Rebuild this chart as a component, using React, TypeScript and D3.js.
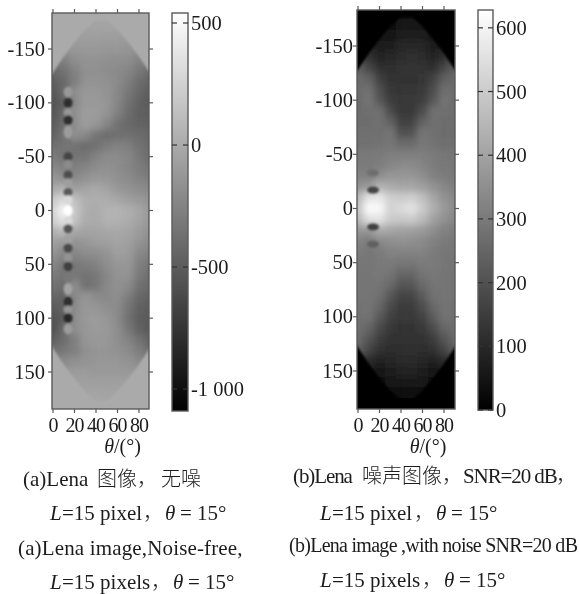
import React from "react";
import * as d3 from "d3";

const thetas = [0, 10, 20, 30, 40, 50, 60, 70, 80, 90];
const rhos = d3.range(-180, 181, 10);

// values, one row per rho, one column per theta
const lenaClean = [
  [-30, -40, -50, -40, -40, -40, -40, -50, -40, -30],
  [-70, -60, -60, -50, -50, -50, -50, -60, -60, -70],
  [-150, -110, -90, -80, -80, -90, -90, -100, -120, -150],
  [-230, -170, -120, -120, -120, -130, -130, -140, -180, -230],
  [-340, -270, -180, -150, -150, -170, -180, -190, -250, -320],
  [-420, -360, -260, -170, -170, -190, -210, -240, -320, -400],
  [-480, -430, -280, -150, -150, -170, -210, -280, -390, -450],
  [-540, -420, -170, -120, -120, -150, -220, -330, -430, -500],
  [-560, -480, -220, -110, -110, -140, -240, -370, -470, -520],
  [-540, -430, -170, -90, -100, -150, -280, -400, -470, -500],
  [-500, -400, -190, -80, -130, -240, -370, -420, -450, -470],
  [-450, -360, -170, -220, -340, -400, -380, -370, -400, -440],
  [-380, -360, -360, -400, -370, -300, -260, -280, -360, -420],
  [-300, -360, -340, -340, -260, -210, -210, -240, -330, -400],
  [-220, -270, -280, -240, -190, -170, -190, -230, -300, -350],
  [-130, -180, -210, -150, -120, -130, -170, -200, -250, -300],
  [-20, 60, -70, -40, -10, -50, -120, -150, -190, -230],
  [180, 300, 130, 20, 20, 10, -30, -70, -110, -160],
  [280, 480, 190, 20, 0, 50, 60, 20, -30, -120],
  [220, 350, 150, 10, 0, 40, 40, 10, -50, -130],
  [40, 80, -30, -50, -40, -30, -20, -40, -100, -170],
  [-70, -130, -160, -130, -100, -80, -50, -70, -150, -220],
  [-150, -230, -230, -200, -180, -150, -70, -100, -220, -280],
  [-240, -320, -320, -290, -260, -190, -130, -130, -280, -340],
  [-300, -360, -320, -360, -320, -230, -150, -150, -310, -390],
  [-360, -400, -180, -380, -330, -220, -170, -210, -370, -430],
  [-440, -460, -220, -130, -200, -220, -180, -290, -430, -470],
  [-510, -470, -200, -120, -130, -180, -210, -340, -470, -500],
  [-560, -500, -190, -110, -100, -130, -210, -370, -490, -530],
  [-570, -420, -180, -130, -100, -120, -190, -330, -460, -540],
  [-480, -400, -280, -140, -120, -130, -180, -260, -370, -460],
  [-380, -330, -280, -170, -140, -140, -160, -200, -290, -380],
  [-260, -210, -170, -150, -130, -130, -130, -150, -210, -260],
  [-180, -130, -100, -100, -110, -110, -110, -110, -140, -180],
  [-100, -80, -70, -70, -70, -80, -70, -70, -90, -100],
  [-50, -40, -40, -40, -40, -50, -40, -40, -40, -50],
  [-20, -20, -20, -20, -20, -20, -20, -20, -20, -20],
];

// beads along theta = 14 in the left map
const cleanRidgeRho = [-110, -100, -91, -84, -73, -60, -50, -43, -33, -26, -17, -10, 0, 10, 17, 27, 35, 44, 52, 62, 73, 85, 92, 100, 110];
const cleanRidgeVal = [-110, -800, -130, -800, -90, -350, -650, -200, -600, -80, -520, 300, 541, 300, -550, -60, -620, -150, -680, -320, -50, -800, -130, -850, -90];

const lenaNoisy = [
  [25, 25, 25, 25, 30, 30, 25, 25, 25, 25],
  [40, 40, 40, 40, 50, 50, 45, 40, 40, 40],
  [70, 60, 55, 55, 70, 75, 70, 55, 60, 70],
  [120, 85, 70, 70, 90, 95, 90, 70, 85, 120],
  [170, 110, 85, 90, 105, 110, 105, 85, 110, 170],
  [230, 170, 115, 115, 120, 125, 120, 115, 170, 230],
  [260, 240, 160, 125, 125, 125, 130, 165, 235, 255],
  [265, 275, 190, 140, 130, 130, 140, 190, 270, 265],
  [260, 285, 215, 150, 135, 135, 150, 215, 285, 260],
  [265, 270, 275, 185, 140, 140, 185, 275, 275, 265],
  [265, 265, 275, 240, 155, 155, 240, 275, 265, 265],
  [270, 270, 270, 285, 195, 200, 285, 275, 265, 265],
  [275, 275, 280, 290, 260, 260, 295, 280, 270, 270],
  [295, 295, 300, 310, 310, 310, 310, 300, 290, 285],
  [300, 300, 310, 330, 340, 340, 325, 305, 295, 290],
  [320, 310, 350, 370, 370, 370, 350, 320, 305, 295],
  [360, 380, 440, 420, 410, 410, 390, 360, 330, 310],
  [450, 560, 570, 510, 500, 510, 470, 410, 360, 330],
  [480, 620, 610, 520, 540, 560, 500, 430, 380, 340],
  [450, 550, 560, 500, 490, 500, 460, 400, 355, 325],
  [370, 370, 420, 410, 400, 395, 380, 350, 320, 305],
  [320, 300, 340, 350, 360, 350, 340, 320, 300, 290],
  [300, 290, 300, 320, 320, 320, 320, 300, 290, 285],
  [290, 290, 295, 300, 290, 290, 300, 300, 290, 280],
  [285, 285, 295, 285, 250, 250, 285, 295, 285, 280],
  [285, 285, 285, 260, 210, 215, 260, 285, 285, 280],
  [285, 285, 275, 220, 170, 170, 225, 280, 285, 280],
  [280, 285, 250, 185, 145, 145, 190, 255, 285, 275],
  [275, 280, 220, 160, 135, 135, 160, 225, 280, 270],
  [270, 245, 180, 140, 125, 125, 140, 185, 250, 265],
  [260, 210, 150, 125, 120, 120, 125, 150, 210, 255],
  [240, 170, 125, 115, 115, 115, 115, 125, 170, 235],
  [160, 105, 85, 90, 100, 100, 95, 85, 105, 160],
  [95, 70, 60, 70, 80, 85, 75, 60, 70, 95],
  [55, 45, 40, 45, 60, 60, 50, 40, 45, 55],
  [30, 30, 30, 30, 35, 35, 30, 30, 30, 30],
  [15, 15, 15, 15, 15, 15, 15, 15, 15, 15],
];

const noisyRidgeRho = [-33, -17, 17, 33];
const noisyRidgeVal = [270, 170, 160, 240];

// where the flat outer area starts, as |rho| per theta
const edgeTheta = [-5, 0, 10, 20, 30, 40, 50, 60, 70, 80, 90, 95];
const edgeRho = [120, 128, 143, 156, 168, 177, 177, 168, 156, 143, 128, 120];

const thetaTicks = [0, 20, 40, 60, 80];
const rhoTicks = [-150, -100, -50, 0, 50, 100, 150];
const cleanBarTicks = [500, 0, -500, -1000];
const noisyBarTicks = [600, 500, 400, 300, 200, 100, 0];

const frameColor = "#5a5a5a";
const ink = "#1c1c1c";
const serif = "'Liberation Serif', serif";
const cjk = "'Noto Sans CJK SC', sans-serif";

function HeatPanel({ id, grid, ridgeRho, ridgeVal, beadRx, beadRy, outside, barTicks, barFormat, box, bar, thetaX, rhoY, barY, labelEnd }: any) {
  const x = d3.scaleLinear().domain(thetaX.domain).range(thetaX.range);
  const y = d3.scaleLinear().domain(rhoY.domain).range(rhoY.range);
  const barScale = d3.scaleLinear().domain(barY.domain).range(barY.range);
  const color = d3
    .scaleLinear<string>()
    .domain([barY.domain[0], barY.top])
    .range(["#000000", "#ffffff"])
    .clamp(true);

  const topArea = d3
    .area<number>()
    .x((_, i) => x(edgeTheta[i]))
    .y0(y(-200))
    .y1((d) => y(-d));
  const bottomArea = d3
    .area<number>()
    .x((_, i) => x(edgeTheta[i]))
    .y0(y(200))
    .y1((d) => y(d));

  const cellEdge = 16;
  const region = { filterUnits: "userSpaceOnUse", x: box.x0 - 30, y: box.y0 - 30, width: box.x1 - box.x0 + 60, height: box.y1 - box.y0 + 60 };
  return (
    <g>
      <defs>
        <clipPath id={`clip-${id}`}>
          <rect x={box.x0} y={box.y0} width={box.x1 - box.x0} height={box.y1 - box.y0} />
        </clipPath>
        <filter id={`soft-${id}`} {...region}>
          <feGaussianBlur stdDeviation="3.6" />
        </filter>
        <filter id={`bead-${id}`} {...region}>
          <feGaussianBlur stdDeviation="1.2" />
        </filter>
        <linearGradient id={`ramp-${id}`} x1="0" y1="1" x2="0" y2="0">
          <stop offset="0" stopColor={color(barY.domain[0])} />
          <stop offset="1" stopColor={color(barY.top)} />
        </linearGradient>
      </defs>

      <g clipPath={`url(#clip-${id})`}>
        <g filter={`url(#soft-${id})`}>
          {grid.map((row: number[], i: number) =>
            row.map((v, j) => {
              const left = x(thetas[j] - 5) - (j === 0 ? cellEdge : 0);
              const right = x(thetas[j] + 5) + (j === row.length - 1 ? cellEdge : 0);
              const top = y(rhos[i] - 5) - (i === 0 ? cellEdge : 0);
              const bottom = y(rhos[i] + 5) + (i === grid.length - 1 ? cellEdge : 0);
              return <rect key={`${i}-${j}`} x={left} y={top} width={right - left + 0.5} height={bottom - top + 0.5} fill={color(v)} />;
            })
          )}
        </g>
        <g filter={`url(#bead-${id})`}>
          {ridgeRho.map((r: number, i: number) => {
            const prev = i === 0 ? r - 5 : (ridgeRho[i - 1] + r) / 2;
            const next = i === ridgeRho.length - 1 ? r + 5 : (r + ridgeRho[i + 1]) / 2;
            const ry = Math.min((y(next) - y(prev)) / 2, beadRy);
            return <ellipse key={r} cx={x(14)} cy={y(r)} rx={beadRx} ry={ry} fill={color(ridgeVal[i])} />;
          })}
          <path d={topArea(edgeRho) ?? ""} fill={color(outside)} />
          <path d={bottomArea(edgeRho) ?? ""} fill={color(outside)} />
        </g>
      </g>

      <rect x={box.x0} y={box.y0} width={box.x1 - box.x0} height={box.y1 - box.y0} fill="none" stroke={frameColor} strokeWidth={1.4} />

      {thetaTicks.map((t) => (
        <g key={t}>
          <line x1={x(t)} x2={x(t)} y1={box.y0} y2={box.y0 - 4} stroke={frameColor} strokeWidth={1.2} />
          <line x1={x(t)} x2={x(t)} y1={box.y1} y2={box.y1 + 4} stroke={frameColor} strokeWidth={1.2} />
          <text x={x(t)} y={432} textAnchor="middle" fontFamily={serif} fontSize={20} letterSpacing={-0.9} fill={ink}>{t}</text>
        </g>
      ))}
      {rhoTicks.map((r) => (
        <g key={r}>
          <line x1={box.x0} x2={box.x0 - 4} y1={y(r)} y2={y(r)} stroke={frameColor} strokeWidth={1.2} />
          <line x1={box.x1} x2={box.x1 + 4} y1={y(r)} y2={y(r)} stroke={frameColor} strokeWidth={1.2} />
          <text x={labelEnd} y={y(r) + 6.5} textAnchor="end" fontFamily={serif} fontSize={20.5} fill={ink}>{r}</text>
        </g>
      ))}
      <text x={(box.x0 + box.x1) / 2 + 22} y={453} textAnchor="middle" fontFamily={serif} fontSize={20} fill={ink}>
        <tspan fontStyle="italic">θ</tspan>/(°)
      </text>

      <rect x={bar.x0} y={barY.range[1]} width={bar.x1 - bar.x0} height={barY.range[0] - barY.range[1]} fill={`url(#ramp-${id})`} stroke={frameColor} strokeWidth={1.4} />
      {barTicks.map((t: number) => (
        <g key={t}>
          <line x1={bar.x0} x2={bar.x0 + 5} y1={barScale(t)} y2={barScale(t)} stroke="#333" strokeWidth={1.2} />
          <line x1={bar.x1} x2={bar.x1 - 5} y1={barScale(t)} y2={barScale(t)} stroke="#333" strokeWidth={1.2} />
          <text x={bar.x1 + 3} y={barScale(t) + 7} fontFamily={serif} fontSize={20.5} fill={ink}>{barFormat(t)}</text>
        </g>
      ))}
    </g>
  );
}

// one caption line: each part is [text, x, kind]
function Caption({ y, parts, spacing, size }: { y: number; parts: [string, number, string?][]; spacing?: number; size?: number }) {
  return (
    <g>
      {parts.map(([s, x, kind], i) => (
        <text
          key={i}
          x={x}
          y={y}
          fontFamily={kind === "cjk" ? cjk : serif}
          fontStyle={kind === "i" ? "italic" : "normal"}
          fontWeight={kind === "cjk" ? 300 : 400}
          fontSize={kind === "cjk" ? 20 : size ?? 21}
          letterSpacing={kind === "cjk" ? 0 : spacing ?? 0}
          fill={ink}
        >
          {s}
        </text>
      ))}
    </g>
  );
}

function paramLine(y: number, left: number, word: string, comma: number, theta: number) {
  return (
    <Caption
      y={y}
      parts={[
        ["L", left, "i"],
        [word, left + 12],
        ["，", comma, "cjk"],
        ["θ", theta, "i"],
        ["=", theta + 15],
        ["15°", theta + 32],
      ]}
    />
  );
}

export default function App() {
  return (
    <svg width={579} height={594} style={{ position: "absolute", left: 0, top: 0, background: "#fff", filter: "blur(0.35px)" }}>
      <HeatPanel
        id="clean"
        grid={lenaClean}
        ridgeRho={cleanRidgeRho}
        ridgeVal={cleanRidgeVal}
        beadRx={4.5}
        beadRy={9}
        outside={0}
        barTicks={cleanBarTicks}
        barFormat={(t: number) => (t === -1000 ? "-1 000" : String(t))}
        box={{ x0: 52, x1: 149, y0: 13, y1: 409 }}
        bar={{ x0: 172, x1: 188 }}
        thetaX={{ domain: [0, 80], range: [53, 139] }}
        rhoY={{ domain: [-150, 150], range: [49, 372] }}
        barY={{ domain: [-1090, 541], range: [411, 13], top: 541 }}
        labelEnd={45}
      />
      <HeatPanel
        id="noisy"
        grid={lenaNoisy}
        ridgeRho={noisyRidgeRho}
        ridgeVal={noisyRidgeVal}
        beadRx={6}
        beadRy={3.5}
        outside={5}
        barTicks={noisyBarTicks}
        barFormat={(t: number) => String(t)}
        box={{ x0: 357, x1: 455, y0: 10, y1: 409 }}
        bar={{ x0: 478, x1: 493 }}
        thetaX={{ domain: [0, 80], range: [358, 444] }}
        rhoY={{ domain: [-150, 150], range: [46, 371] }}
        barY={{ domain: [0, 628], range: [410, 10], top: 628 }}
        labelEnd={353}
      />

      <Caption y={486} parts={[["(a)Lena", 23], ["图像，", 97, "cjk"], ["无噪", 161, "cjk"]]} />
      {paramLine(520, 50, "=15 pixel", 143, 165)}
      <Caption y={555} parts={[["(a)Lena image,Noise-free,", 18]]} spacing={0.15} />
      {paramLine(589, 50, "=15 pixels", 151, 173)}
      <Caption y={483} parts={[["(b)Lena", 293], ["噪声图像，", 362, "cjk"], ["SNR=20 dB", 463]]} spacing={-1.1} />
      <Caption y={483} parts={[["，", 556, "cjk"]]} />
      {paramLine(520, 320, "=15 pixel", 414, 436)}
      <Caption y={552} parts={[["(b)Lena image ,with noise SNR=20 dB", 289]]} size={20} spacing={-0.72} />
      {paramLine(587, 320, "=15 pixels", 422, 444)}
    </svg>
  );
}
